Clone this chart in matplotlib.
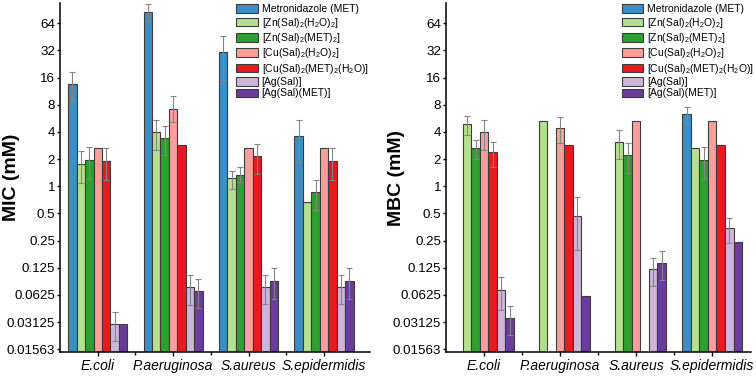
import matplotlib
matplotlib.use('Agg')
import matplotlib.pyplot as plt
import numpy as np

plt.rcParams['font.family'] = ['Liberation Sans', 'DejaVu Sans']
plt.rcParams['mathtext.default'] = 'regular'

bacteria = ['E.coli', 'P.aeruginosa', 'S.aureus', 'S.epidermidis']
compounds = ['Metronidazole (MET)', r'[Zn(Sal)$_2$(H$_2$O)$_2$]', r'[Zn(Sal)$_2$(MET)$_2$]',
             r'[Cu(Sal)$_2$(H$_2$O)$_2$]', r'[Cu(Sal)$_2$(MET)$_2$(H$_2$O)]',
             '[Ag(Sal)]', '[Ag(Sal)(MET)]']
colors = ['#3a8fc7', '#b7e08e', '#2ea02e', '#fc9f9c', '#e8191f', '#cdb5d8', '#6a3c9c']

# MIC values (mM), one list per compound, order = bacteria; None = no bar
mic = [
    [13.6, 85.5, 30.5, 3.64],
    [1.78, 4.0, 1.22, 0.665],
    [1.96, 3.43, 1.35, 0.86],
    [2.68, 7.2, 2.68, 2.68],
    [1.91, 2.87, 2.15, 1.91],
    [0.0298, 0.0766, 0.0766, 0.0766],
    [0.030, 0.070, 0.090, 0.090],
]
# error bar extents (low, high); None = no error bar
mic_err = [
    [(8.9, 18.5), (67, 105), (15.2, 45.9), (1.85, 5.47)],
    [(1.09, 2.44), (2.5, 5.47), (0.94, 1.49), None],
    [(1.19, 2.7), (2.24, 4.62), (1.11, 1.64), (0.55, 1.16)],
    [None, (5.1, 9.93), None, None],
    [(1.17, 2.64), None, (1.38, 2.92), (1.17, 2.64)],
    [(0.0191, 0.0401), (0.0488, 0.104), (0.049, 0.104), (0.049, 0.104)],
    [None, (0.0452, 0.094), (0.057, 0.123), (0.057, 0.123)],
]

# MBC values (mM)
mbc = [
    [None, None, None, 6.3],
    [4.9, 5.34, 3.09, 2.68],
    [2.68, None, 2.20, 1.96],
    [4.0, 4.43, 5.34, 5.34],
    [2.38, 2.87, None, 2.87],
    [0.0717, 0.473, 0.120, 0.341],
    [0.0347, 0.0604, 0.140, 0.24],
]
mbc_err = [
    [None, None, None, (5.0, 7.6)],
    [(3.73, 5.97), None, (2.0, 4.25), None],
    [(2.02, 3.28), None, (1.40, 3.02), (1.19, 2.7)],
    [(2.5, 5.47), (3.02, 5.86), None, None],
    [(1.62, 3.1), None, None, None],
    [(0.043, 0.099), (0.199, 0.757), (0.0786, 0.161), (0.236, 0.447)],
    [(0.0227, 0.0477), None, (0.091, 0.19), None],
]

yticks = [0.015625, 0.03125, 0.0625, 0.125, 0.25, 0.5, 1, 2, 4, 8, 16, 32, 64]
ytick_labels = ['0.01563', '0.03125', '0.0625', '0.125', '0.25', '0.5', '1', '2', '4',
                '8', '16', '32', '64']

fig = plt.figure(figsize=(7.56, 3.77), dpi=100)
ax1 = fig.add_axes([0.0794, 0.0663, 0.410, 0.925])
ax2 = fig.add_axes([0.590, 0.0663, 0.4034, 0.925])

width = 0.112
x = np.arange(1, len(bacteria) + 1)
ybottom = 0.01458


def draw(ax, vals, errs, ylabel, xright, label_x, leg_x):
    handles = []
    for k in range(len(compounds)):
        off = (k - 3) * width
        h = None
        for j in range(len(bacteria)):
            v = vals[k][j]
            if v is None:
                continue
            b = ax.bar(x[j] + off, v - ybottom, width, bottom=ybottom, color=colors[k],
                       edgecolor='#3c3c3c', linewidth=0.8, zorder=2)
            h = b
            e = errs[k][j]
            if e is not None:
                ax.errorbar(x[j] + off, v, yerr=[[v - e[0]], [e[1] - v]], fmt='none',
                            ecolor='#858585', elinewidth=0.8, capsize=2.5, capthick=0.8, zorder=3)
        handles.append(h)
    ax.set_yscale('log', base=2)
    ax.set_ylim(ybottom, 106.6)
    ax.set_yticks(yticks)
    ax.set_yticklabels(ytick_labels)
    ax.yaxis.set_minor_locator(matplotlib.ticker.NullLocator())
    ax.set_xlim(0.5, xright)
    ax.set_xticks(x)
    ax.set_xticklabels(bacteria, style='italic', fontsize=10)
    ax.set_xticks([1.5, 2.5, 3.5], minor=True)
    ax.tick_params(axis='x', which='major', length=3, width=1, pad=2)
    ax.tick_params(axis='x', which='minor', length=2, width=1)
    ax.tick_params(axis='y', length=2.5, width=1, labelsize=9.6, pad=1)
    for s in ['top', 'right']:
        ax.spines[s].set_visible(False)
    for s in ['left', 'bottom']:
        ax.spines[s].set_linewidth(1.1)
    ax.set_ylabel(ylabel, fontsize=14, fontweight='bold')
    ax.yaxis.set_label_coords(label_x, 0.5)
    leg = ax.legend(handles, compounds, loc='upper left', bbox_to_anchor=(leg_x, 1.0),
                    frameon=False, fontsize=7.5, handlelength=2.1, handleheight=0.9,
                    handletextpad=0.35, labelspacing=0.13, borderpad=0.1, borderaxespad=0)
    leg.set_zorder(5)


draw(ax1, mic, mic_err, 'MIC (mM)', 4.61, -0.129, 0.565)
draw(ax2, mbc, mbc_err, 'MBC (mM)', 4.51, -0.134, 0.572)

fig.savefig('out.png', dpi=100)
